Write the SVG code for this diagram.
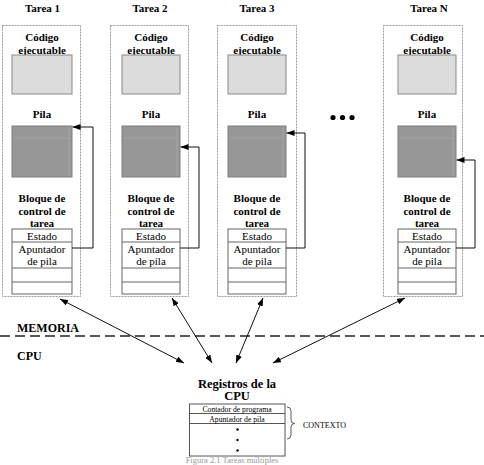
<svg xmlns="http://www.w3.org/2000/svg" width="484" height="465" viewBox="0 0 484 465">
<style>
text{font-family:'Liberation Serif','DejaVu Serif',serif}
.bt{font-weight:bold;font-size:11px;fill:#000;text-anchor:middle}
.rt{font-size:11px;fill:#000;text-anchor:middle}
.st{font-size:7.7px;fill:#000;text-anchor:middle}
.frame{fill:none;stroke:#9a9a9a;stroke-width:1;stroke-dasharray:2 1}
.code{fill:#dcdcdc;stroke:#8a8a8a;stroke-width:1}
.stack{fill:#979797;stroke:#7e7e7e;stroke-width:1}
.hl{fill:none;stroke:#a9a9a9;stroke-width:0.8}
.tbl{fill:#fff;stroke:#666;stroke-width:1}
.ln{stroke:#666;stroke-width:1}
.con{fill:none;stroke:#111;stroke-width:1}
</style>
<defs>
<marker id="ah" viewBox="0 0 8 6" refX="8" refY="3" markerWidth="8" markerHeight="6" markerUnits="userSpaceOnUse" orient="auto-start-reverse">
<path d="M0,0 L8,3 L0,6 z" fill="#000"/>
</marker>
</defs>

<g id="task1">
<text class="bt" x="42.5" y="12">Tarea 1</text>
<rect class="frame" x="2.5" y="25.5" width="78" height="271"/>
<g transform="translate(12,0)">
<text class="bt" x="30" y="40.5">Código</text>
<text class="bt" x="30" y="53.5">ejecutable</text>
<rect class="code" x="0" y="55" width="60" height="39"/>
<text class="bt" x="30" y="117.5">Pila</text>
<rect class="stack" x="0" y="126" width="60" height="51"/>
<path class="hl" d="M2,138 H57 M57,127 V176"/>
<text class="bt" x="30" y="201.5">Bloque de</text>
<text class="bt" x="30" y="214.5">control de</text>
<text class="bt" x="30" y="226.5">tarea</text>
<rect class="tbl" x="0" y="229" width="60" height="65"/>
<path class="ln" d="M0,242 H60 M0,268 H60 M0,282 H60"/>
<text class="rt" x="30" y="240">Estado</text>
<text class="rt" x="30" y="253">Apuntador</text>
<text class="rt" x="30" y="265">de pila</text>
</g>
</g>

<g id="task2">
<text class="bt" x="150" y="12">Tarea 2</text>
<rect class="frame" x="110.5" y="25.5" width="78" height="271"/>
<g transform="translate(122,0)">
<text class="bt" x="29" y="40.5">Código</text>
<text class="bt" x="29" y="53.5">ejecutable</text>
<rect class="code" x="0" y="55" width="58" height="39"/>
<text class="bt" x="29" y="117.5">Pila</text>
<rect class="stack" x="0" y="126" width="58" height="51"/>
<path class="hl" d="M2,138 H55 M55,127 V176"/>
<text class="bt" x="29" y="201.5">Bloque de</text>
<text class="bt" x="29" y="214.5">control de</text>
<text class="bt" x="29" y="226.5">tarea</text>
<rect class="tbl" x="0" y="229" width="58" height="65"/>
<path class="ln" d="M0,242 H58 M0,268 H58 M0,282 H58"/>
<text class="rt" x="29" y="240">Estado</text>
<text class="rt" x="29" y="253">Apuntador</text>
<text class="rt" x="29" y="265">de pila</text>
</g>
</g>

<g id="task3">
<text class="bt" x="257" y="12">Tarea 3</text>
<rect class="frame" x="217.5" y="25.5" width="79" height="271"/>
<g transform="translate(228,0)">
<text class="bt" x="29" y="40.5">Código</text>
<text class="bt" x="29" y="53.5">ejecutable</text>
<rect class="code" x="0" y="55" width="58" height="39"/>
<text class="bt" x="29" y="117.5">Pila</text>
<rect class="stack" x="0" y="126" width="58" height="51"/>
<path class="hl" d="M2,138 H55 M55,127 V176"/>
<text class="bt" x="29" y="201.5">Bloque de</text>
<text class="bt" x="29" y="214.5">control de</text>
<text class="bt" x="29" y="226.5">tarea</text>
<rect class="tbl" x="0" y="229" width="58" height="65"/>
<path class="ln" d="M0,242 H58 M0,268 H58 M0,282 H58"/>
<text class="rt" x="29" y="240">Estado</text>
<text class="rt" x="29" y="253">Apuntador</text>
<text class="rt" x="29" y="265">de pila</text>
</g>
</g>

<g id="ellipsis">
<circle cx="333" cy="117.5" r="2.6" fill="#000"/>
<circle cx="342.5" cy="117.5" r="2.6" fill="#000"/>
<circle cx="352" cy="117.5" r="2.6" fill="#000"/>
</g>

<g id="taskN">
<text class="bt" x="429" y="12">Tarea N</text>
<rect class="frame" x="383.5" y="25.5" width="79" height="271"/>
<g transform="translate(398,0)">
<text class="bt" x="29" y="40.5">Código</text>
<text class="bt" x="29" y="53.5">ejecutable</text>
<rect class="code" x="0" y="55" width="58" height="39"/>
<text class="bt" x="29" y="117.5">Pila</text>
<rect class="stack" x="0" y="126" width="58" height="51"/>
<path class="hl" d="M2,138 H55 M55,127 V176"/>
<text class="bt" x="29" y="201.5">Bloque de</text>
<text class="bt" x="29" y="214.5">control de</text>
<text class="bt" x="29" y="226.5">tarea</text>
<rect class="tbl" x="0" y="229" width="58" height="65"/>
<path class="ln" d="M0,242 H58 M0,268 H58 M0,282 H58"/>
<text class="rt" x="29" y="240">Estado</text>
<text class="rt" x="29" y="253">Apuntador</text>
<text class="rt" x="29" y="265">de pila</text>
</g>
</g>

<g id="boundary">
<line x1="0" y1="336" x2="484" y2="336" stroke="#222" stroke-width="1.5" stroke-dasharray="10 5"/>
<text class="bt" x="17" y="332" style="text-anchor:start;font-size:12px">MEMORIA</text>
<text class="bt" x="17" y="360" style="text-anchor:start;font-size:12px">CPU</text>
</g>

<g id="cpu-registers">
<text class="bt" x="237" y="387.5" style="font-size:12.5px">Registros de la</text>
<text class="bt" x="237" y="400" style="font-size:12.5px">CPU</text>
<rect class="tbl" x="189.5" y="404" width="95.5" height="52" style="stroke:#555"/>
<path class="ln" d="M189.5,413.5 H285 M189.5,423.5 H285" style="stroke:#555"/>
<text class="st" x="237" y="411.5">Contador de programa</text>
<text class="st" x="237" y="421.5">Apuntador de pila</text>
<circle cx="237.5" cy="429.5" r="1.2" fill="#000"/>
<circle cx="237.5" cy="440" r="1.2" fill="#000"/>
<circle cx="237.5" cy="450.5" r="1.2" fill="#000"/>
<path d="M287,407 Q291,407 291,411 V420 Q291,423.5 294.5,423.5 Q291,423.5 291,427 V435 Q291,439 287,439" fill="none" stroke="#333" stroke-width="0.8"/>
<text class="st" x="303" y="428" style="text-anchor:start;font-size:8px">CONTEXTO</text>
</g>

<g id="caption">
<text x="232" y="462.5" style="font-size:8.5px;fill:#9a9a9a;text-anchor:middle">Figura 2.1 Tareas múltiples</text>
</g>

<g id="connectors">
<polyline class="con" points="72,248 93,248 93,127 72.5,127" marker-end="url(#ah)"/>
<polyline class="con" points="180,248 199,248 199,147 180.5,147" marker-end="url(#ah)"/>
<polyline class="con" points="286,248 305,248 305,133 286.5,133" marker-end="url(#ah)"/>
<polyline class="con" points="456,248 475,248 475,160 456.5,160" marker-end="url(#ah)"/>
<line class="con" x1="60" y1="299" x2="184" y2="363" marker-start="url(#ah)" marker-end="url(#ah)"/>
<line class="con" x1="172" y1="298" x2="212" y2="363" marker-start="url(#ah)" marker-end="url(#ah)"/>
<line class="con" x1="263" y1="298" x2="236" y2="363" marker-start="url(#ah)" marker-end="url(#ah)"/>
<line class="con" x1="405" y1="298" x2="273" y2="363" marker-start="url(#ah)" marker-end="url(#ah)"/>
</g>
</svg>
